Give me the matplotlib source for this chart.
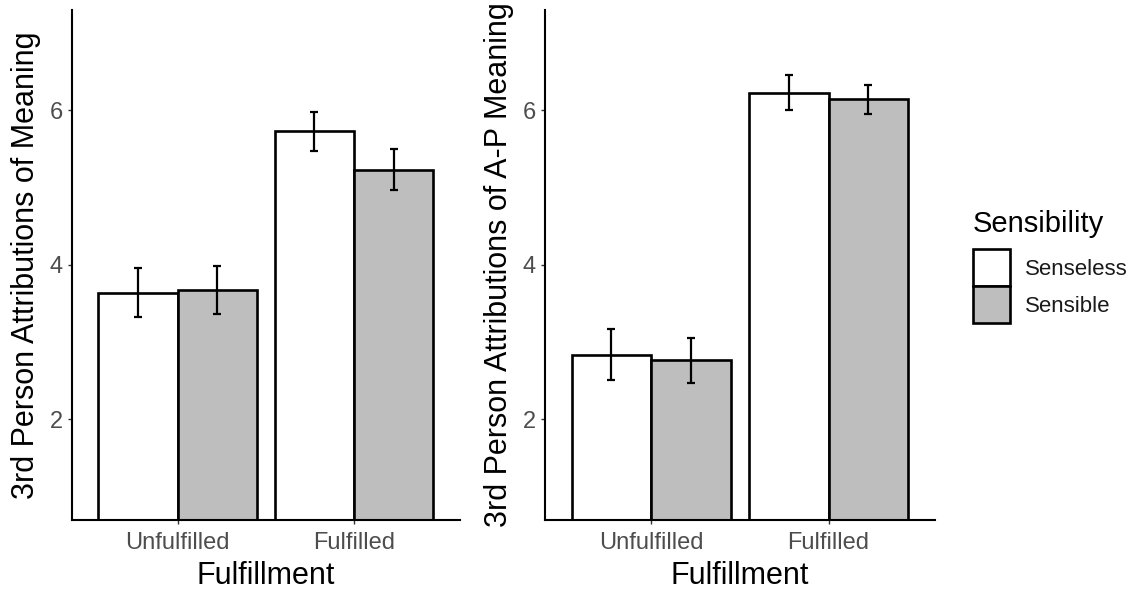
from matplotlib import pyplot as plt
import numpy as np

# --- data ------------------------------------------------------------------
categories = ["Unfulfilled", "Fulfilled"]
groups = ["Senseless", "Sensible"]
ylabel_left = "3rd Person Attributions of Meaning"
ylabel_right = "3rd Person Attributions of A-P Meaning"

left_senseless = [3.64, 5.73]
left_senseless_err = [0.32, 0.25]
left_sensible = [3.68, 5.23]
left_sensible_err = [0.31, 0.265]

right_senseless = [2.84, 6.23]
right_senseless_err = [0.33, 0.23]
right_sensible = [2.765, 6.145]
right_sensible_err = [0.295, 0.185]

yticks = [2, 4, 6]

fills = ["white", "#bebebe"]
plt.rcParams['font.family'] = ['Liberation Sans', 'DejaVu Sans']


def draw_panel(ax, means, errs, ylabel):
	x = np.arange(1, len(categories) + 1)
	width = 0.45
	offsets = [-width / 2, width / 2]
	bars = []
	for m, e, off, fc in zip(means, errs, offsets, fills):
		b = ax.bar(x + off, m, width, color=fc, edgecolor="black",
			linewidth=1.9, zorder=2)
		bars.append(b)
		ax.errorbar(x + off, m, yerr=e, fmt="none", ecolor="black",
			elinewidth=1.6, capsize=3.2, capthick=1.6, zorder=3)
	ax.set_xlim(0.4, 2.6)
	ax.set_ylim(0.7, 7.3)
	ax.set_xticks(x)
	ax.set_xticklabels(categories)
	ax.set_yticks(yticks)
	ax.tick_params(axis="both", labelsize=17, labelcolor="#4d4d4d",
		color="#333333", length=3, width=1.0)
	ax.tick_params(axis="x", pad=6)
	ax.spines["top"].set_visible(False)
	ax.spines["right"].set_visible(False)
	for s in ["left", "bottom"]:
		ax.spines[s].set_linewidth(1.5)
	ax.set_xlabel("Fulfillment", fontsize=22, labelpad=5)
	ax.set_ylabel(ylabel, fontsize=22, labelpad=6)
	return bars


fig = plt.figure(figsize=(11.37, 5.90), dpi=100)
ax1 = fig.add_axes([0.0633, 0.119, 0.341, 0.864])
ax2 = fig.add_axes([0.4793, 0.119, 0.343, 0.864])

bars = draw_panel(ax1, [left_senseless, left_sensible],
	[left_senseless_err, left_sensible_err], ylabel_left)
draw_panel(ax2, [right_senseless, right_sensible],
	[right_senseless_err, right_sensible_err], ylabel_right)

leg = fig.legend(bars, groups, title="Sensibility", loc="upper left",
	bbox_to_anchor=(0.846, 0.663), frameon=False, fontsize=16,
	title_fontsize=21, handlelength=1.65, handleheight=2.2,
	labelspacing=0.0, handletextpad=0.7, borderpad=0.0,
	alignment="left")
# gap between the legend title and the keys (keys themselves touch)
leg._legend_box.sep = 8
for t in leg.get_texts():
	t.set_color("#1a1a1a")

fig.savefig("out.png", dpi=100)
